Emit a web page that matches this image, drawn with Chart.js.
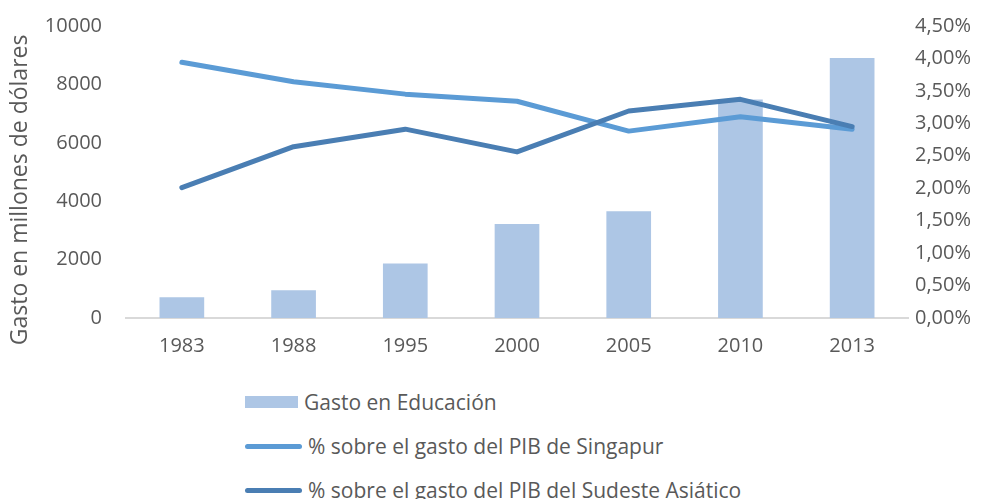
<!DOCTYPE html>
<html>
<head>
<meta charset="utf-8">
<script src="https://cdn.jsdelivr.net/npm/chart.js@4.4.1/dist/chart.umd.min.js"></script>
<style>
  html, body { margin: 0; padding: 0; background: #fff; overflow: hidden; }
  #wrap { position: relative; width: 991px; height: 499px; font-family: "Open Sans", sans-serif; color: #595959; }
  #box { position: absolute; left: 0; top: 0; width: 991px; height: 372px; }
  #legend { position: absolute; left: 245px; top: 380px; }
  .item { height: 44px; display: flex; align-items: center; font-size: 21px; white-space: nowrap; }
  .sw { display: inline-block; margin-right: 6px; }
</style>
</head>
<body>
<div id="wrap">
  <div id="box"><canvas id="graph"></canvas></div>
  <div id="legend"></div>
</div>
<script>
var years = ["1983", "1988", "1995", "2000", "2005", "2010", "2013"];
var gasto = [710, 950, 1870, 3220, 3660, 7480, 8900];
var pibSingapur = [3.94, 3.64, 3.45, 3.34, 2.88, 3.10, 2.91];
var pibSudeste = [2.01, 2.64, 2.91, 2.56, 3.19, 3.37, 2.95];

var names = ["Gasto en Educación", "% sobre el gasto del PIB de Singapur", "% sobre el gasto del PIB del Sudeste Asiático"];
var colors = ["#adc6e5", "#5b9bd5", "#4a7eb3"];
var txt = "#595959";
var font = { family: "Open Sans", size: 20 };

var graph = new Chart("graph", {
    type: "bar",
    data: {
        labels: years,
        datasets: [{
          type: "line",
          label: names[1],
          data: pibSingapur,
          yAxisID: "y2",
          borderColor: colors[1],
          backgroundColor: colors[1],
          borderWidth: 5,
          pointRadius: 0,
          borderCapStyle: "round",
          borderJoinStyle: "round",
          order: 1
        }, {
          type: "line",
          label: names[2],
          data: pibSudeste,
          yAxisID: "y2",
          borderColor: colors[2],
          backgroundColor: colors[2],
          borderWidth: 5,
          pointRadius: 0,
          borderCapStyle: "round",
          borderJoinStyle: "round",
          order: 0
        }, {
          label: names[0],
          data: gasto,
          yAxisID: "y",
          backgroundColor: colors[0],
          barPercentage: 0.4,
          categoryPercentage: 1,
          order: 2
        }]
      },
      options: {
        responsive: true,
        maintainAspectRatio: false,
        animation: false,
        layout: { padding: { top: 26, left: 0, right: 0, bottom: 0 } },
        plugins: { legend: { display: false }, tooltip: { enabled: false } },
        scales: {
          x: {
            grid: { display: false, drawTicks: false },
            border: { color: "#d9d9d9", width: 2 },
            ticks: { color: txt, font: font, padding: 16 },
            afterFit: function (s) { s.height = 54; }
          },
          y: {
            position: "left",
            min: 0, max: 10000,
            grid: { display: false, drawTicks: false },
            border: { display: false },
            ticks: {
              stepSize: 2000, color: txt, font: font, padding: 24,
              callback: function (v) { return String(v); }
            },
            // trailing spaces nudge the title a bit lower along the axis, as in the original
            title: { display: true, text: "Gasto en millones de dólares      ", color: txt, font: { family: "Open Sans", size: 23 }, padding: { top: 7, bottom: 0 } },
            afterFit: function (s) { s.width = 126; s.paddingTop = 0; }
          },
          y2: {
            position: "right",
            min: 0, max: 4.5,
            grid: { display: false, drawTicks: false },
            border: { display: false },
            ticks: {
              stepSize: 0.5, color: txt, font: font, padding: 7,
              callback: function (v) { return v.toFixed(2).replace(".", ",") + "%"; }
            },
            afterFit: function (s) { s.width = 83; s.paddingTop = 0; }
          }
        }
      }
});

// legend below the chart, one entry per line
var order = [2, 0, 1];
var leg = document.getElementById("legend");
order.forEach(function (i) {
  var ds = graph.data.datasets[i];
  var row = document.createElement("div");
  row.className = "item";
  var sw = document.createElement("span");
  sw.className = "sw";
  if (ds.type === "line") {
    sw.style.width = "57px"; sw.style.height = "5px"; sw.style.borderRadius = "3px";
    sw.style.background = ds.borderColor;
  } else {
    sw.style.width = "53px"; sw.style.height = "12px";
    sw.style.background = ds.backgroundColor;
  }
  row.appendChild(sw);
  row.appendChild(document.createTextNode(ds.label));
  leg.appendChild(row);
});
</script>
</body>
</html>
